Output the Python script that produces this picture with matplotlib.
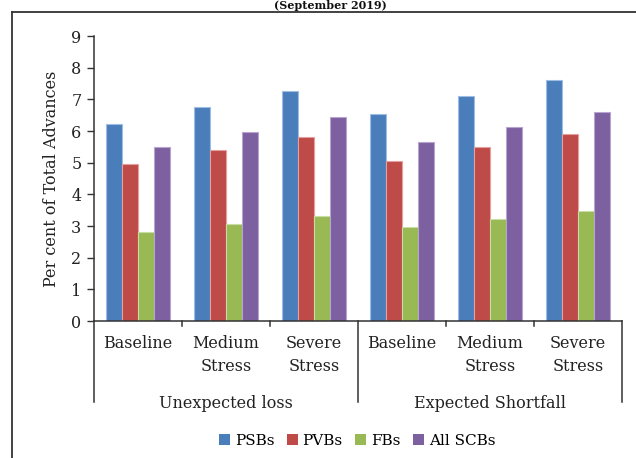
import numpy as np
import matplotlib.pyplot as plt
from matplotlib.patches import Patch
from matplotlib.lines import Line2D
from matplotlib.transforms import blended_transform_factory

plt.rcParams['font.family'] = 'DejaVu Serif'

scenarios = ['Baseline', 'Medium\nStress', 'Severe\nStress'] * 2
groups = ['Unexpected loss', 'Expected Shortfall']
series = ['PSBs', 'PVBs', 'FBs', 'All SCBs']
psbs = [6.23, 6.75, 7.27, 6.54, 7.09, 7.62]
pvbs = [4.97, 5.39, 5.80, 5.06, 5.48, 5.90]
fbs = [2.82, 3.06, 3.31, 2.97, 3.21, 3.46]
all_scbs = [5.51, 5.98, 6.43, 5.66, 6.14, 6.61]
colors = ['#4a7ebb', '#be4b48', '#98b954', '#7d60a0']
edges = ['#9dbde3', '#e3a09e', '#c8dca4', '#b7a5cf']

W, H = 636, 458
fig = plt.figure(figsize=(W / 100, H / 100), dpi=100)
ax = fig.add_axes([94 / W, 1 - 321 / H, 528 / W, 285 / H])

x = np.arange(len(scenarios))
bw = 0.182
for i, vals in enumerate([psbs, pvbs, fbs, all_scbs]):
    ax.bar(x + (i - 1.5) * bw, vals, bw, color=colors[i],
           edgecolor=edges[i], linewidth=0.8, label=series[i])

ax.set_xlim(-0.5, 5.5)
ax.set_ylim(0, 9)
ax.set_yticks(range(10))
ax.tick_params(axis='y', labelsize=11.5, length=5, width=1, color='#333333',
               pad=4, labelcolor='#222222')
ax.set_xticks([])
for s in ['top', 'right']:
    ax.spines[s].set_visible(False)
for s in ['left', 'bottom']:
    ax.spines[s].set_color('#333333')
    ax.spines[s].set_linewidth(1.1)
ax.set_ylabel('Per cent of Total Advances', fontsize=11.5, color='#222222',
              labelpad=8)

# two-level category axis drawn under the plot
tr = blended_transform_factory(ax.transData, fig.transFigure)
for b in np.arange(-0.5, 6, 1.0):
    y_end = 1 - 402 / H if b in (-0.5, 2.5, 5.5) else 1 - 326 / H
    ax.add_line(Line2D([b, b], [1 - 321 / H, y_end], transform=tr,
                       color='#333333', lw=1.1, clip_on=False))
for xi, lab in zip(x, scenarios):
    fig.text(xi, 1 - 335 / H, lab, transform=tr, ha='center', va='top',
             fontsize=11.5, color='#222222', linespacing=1.45)
for gi, g in enumerate(groups):
    fig.text(1 + 3 * gi, 1 - 404 / H, g, transform=tr, ha='center',
             va='center', fontsize=11.5, color='#222222')

handles = [Patch(facecolor=c, edgecolor='none') for c in colors]
fig.legend(handles, series, loc='center', bbox_to_anchor=(357 / W, 1 - 441 / H),
           ncol=4, frameon=False, fontsize=11, handlelength=0.75,
           handleheight=0.75, handletextpad=0.3, columnspacing=0.8)

# outer frame and heading
fig.add_artist(Line2D([12 / W, 12 / W], [0, 1 - 12 / H], transform=fig.transFigure,
                      color='#333333', lw=1.3))
fig.add_artist(Line2D([12 / W, 1], [1 - 12 / H, 1 - 12 / H], transform=fig.transFigure,
                      color='#333333', lw=1.3))
fig.text(330 / W, 1 - 11 / H, '(September 2019)', ha='center', va='bottom',
         fontsize=8, fontweight='bold', color='#111111')

fig.savefig('out.png', dpi=100)
